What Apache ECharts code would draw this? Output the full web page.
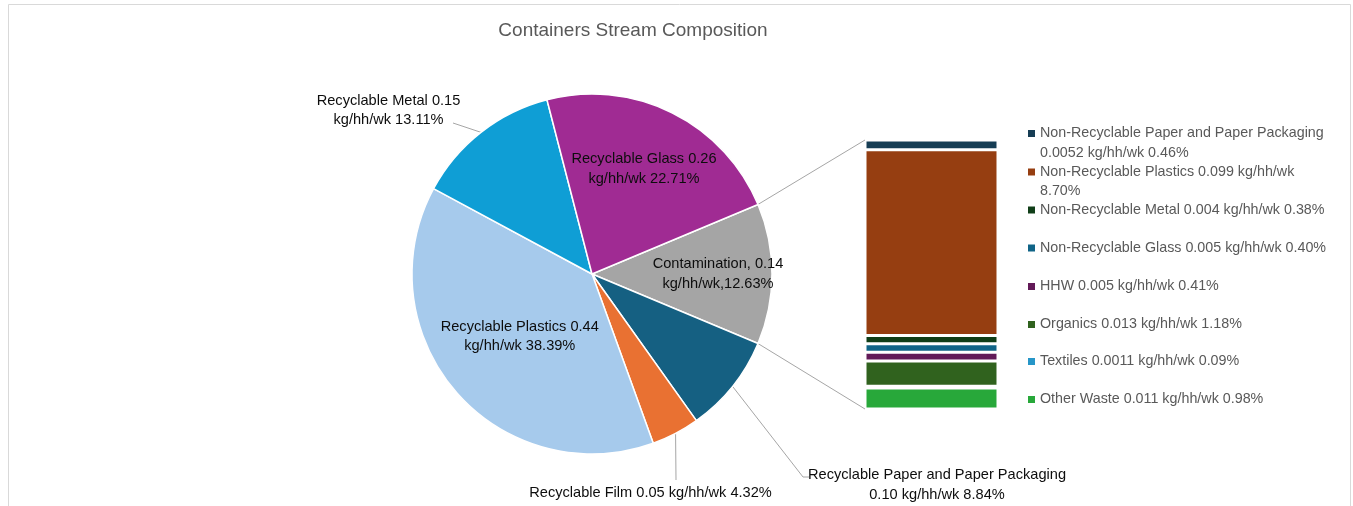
<!DOCTYPE html>
<html>
<head>
<meta charset="utf-8">
<script src="https://cdn.jsdelivr.net/npm/echarts@6/dist/echarts.min.js"></script>
<style>
  html, body { margin: 0; padding: 0; background: #ffffff; }
  #chart { width: 1353px; height: 506px; }
</style>
</head>
<body>
<div id="chart"></div>
<script>
// ---- Main stream composition (pie), clockwise starting with Contamination ----
const pieNames = ['Contamination', 'Recyclable Paper and Paper Packaging', 'Recyclable Film',
                  'Recyclable Plastics', 'Recyclable Metal', 'Recyclable Glass'];
const pieKg = ['0.14', '0.10', '0.05', '0.44', '0.15', '0.26'];
const piePct = [12.63, 8.84, 4.32, 38.39, 13.11, 22.71];
const pieColors = ['#A5A5A5', '#156082', '#E97132', '#A6CAEC', '#0F9ED5', '#A02B93'];

// ---- Contamination breakdown (stacked bar), listed top to bottom ----
const barNames = ['Non-Recyclable Paper and Paper Packaging', 'Non-Recyclable Plastics',
                  'Non-Recyclable Metal', 'Non-Recyclable Glass', 'HHW', 'Organics',
                  'Textiles', 'Other Waste'];
const barKg = ['0.0052', '0.099', '0.004', '0.005', '0.005', '0.013', '0.0011', '0.011'];
const barPct = [0.46, 8.70, 0.38, 0.40, 0.41, 1.18, 0.09, 0.98];
const barColors = ['#163D54', '#963E11', '#103E18', '#106487', '#621A58', '#30621E', '#2696C8', '#28A83A'];

const titleText = 'Containers Stream Composition';

// ---- layout ----
const FONT = '"Liberation Sans", Arial, sans-serif';
const LABEL_SIZE = 14.6;
const LEGEND_SIZE = 14.3;
const LINE_H = 19.5;
const PIE = { cx: 592, cy: 274, r: 180 };
const BAR_GRID = { left: 865, top: 140, width: 133, height: 269 };
const LEGEND_LEFT = 1028;
const LEGEND_LINE_CENTERS = [133.5, 172, 210, 248, 286.5, 324.5, 361.5, 399.5];
const LEGEND_WRAP = 298;
const GUIDE_COLOR = '#A6A6A6';

// labels drawn inside a slice: fraction of the radius along the slice's mid angle
const INSIDE_LABEL_RADIUS = {
  'Contamination': 0.70,
  'Recyclable Plastics': 0.53,
  'Recyclable Glass': 0.65
};
// labels drawn outside: text centre and leader-line end
const OUTSIDE_LABEL = {
  'Recyclable Metal': { x: 388.5, y: 110.5, line: [[453, 123]] },
  'Recyclable Film': { x: 650.5, y: 492.5, line: [[676, 480]] },
  'Recyclable Paper and Paper Packaging': { x: 937, y: 485, line: [[803, 477], [809, 477]] }
};

// ---- pie geometry from the data (angles clockwise from 12 o'clock) ----
const pieTotal = piePct.reduce((a, b) => a + b, 0);
const sweep = piePct.map(v => v / pieTotal * 360);
const startAngle = sweep[0] / 2;               // Contamination centred on 3 o'clock
const sliceFrom = [];
let acc = 90 - startAngle;
sweep.forEach(s => { sliceFrom.push(acc); acc += s; });
const sliceMid = sliceFrom.map((a, i) => a + sweep[i] / 2);
function polar(deg, rr) {
  const t = deg * Math.PI / 180;
  return [PIE.cx + rr * Math.sin(t), PIE.cy - rr * Math.cos(t)];
}

function pieLabelText(i) {
  const name = pieNames[i], kg = pieKg[i], pct = piePct[i].toFixed(2) + '%';
  if (name === 'Contamination') return name + ', ' + kg + '\nkg/hh/wk,' + pct;
  if (name === 'Recyclable Film') return name + ' ' + kg + ' kg/hh/wk ' + pct;
  if (name === 'Recyclable Paper and Paper Packaging') return name + '\n' + kg + ' kg/hh/wk ' + pct;
  return name + ' ' + kg + '\nkg/hh/wk ' + pct;
}

const pieData = pieNames.map((name, i) => {
  const outside = OUTSIDE_LABEL[name] != null;
  return {
    name: name,
    value: piePct[i],
    itemStyle: { color: pieColors[i] },
    label: { position: outside ? 'outside' : 'inside', formatter: pieLabelText(i) },
    labelLine: { show: outside }
  };
});

// ---- legend text wrapping ----
const measure = document.createElement('canvas').getContext('2d');
measure.font = LEGEND_SIZE + 'px ' + FONT;
function wrapText(text, maxW) {
  const words = text.split(' ');
  const lines = [];
  let cur = '';
  words.forEach(w => {
    const test = cur ? cur + ' ' + w : w;
    if (cur && measure.measureText(test).width > maxW) { lines.push(cur); cur = w; }
    else cur = test;
  });
  if (cur) lines.push(cur);
  return lines;
}
const legendText = barNames.map((n, i) =>
  wrapText(n + ' ' + barKg[i] + ' kg/hh/wk ' + barPct[i].toFixed(2) + '%', LEGEND_WRAP));

const ICON = 7;
const legends = barNames.map((name, i) => {
  const lines = legendText[i].length;
  const h = ICON + (lines - 1) * LINE_H;   // keep the swatch beside the first line
  return {
    left: LEGEND_LEFT,
    top: LEGEND_LINE_CENTERS[i] - LINE_H / 2,
    padding: 0,
    orient: 'vertical',
    selectedMode: false,
    itemWidth: ICON,
    itemHeight: h,
    icon: lines > 1 ? 'path://M0,0h7v7h-7zM0,' + h : 'rect',
    itemStyle: { borderWidth: 0 },
    data: [name],
    formatter: () => legendText[i].join('\n'),
    textStyle: { fontFamily: FONT, fontSize: LEGEND_SIZE, lineHeight: LINE_H, color: '#595959' }
  };
});

// ---- stacked bar series, bottom segment first ----
const barTotal = barPct.reduce((a, b) => a + b, 0);
const barSeries = barNames.map((name, i) => ({
  type: 'bar',
  name: name,
  stack: 'contamination',
  barWidth: '100%',
  data: [barPct[i]],
  itemStyle: { color: barColors[i], borderColor: '#ffffff', borderWidth: 1.5 },
  emphasis: { disabled: true },
  z: 2
})).reverse();

// ---- connector lines from the Contamination slice to the bar ----
const upper = polar(sliceFrom[0], PIE.r);
const lower = polar(sliceFrom[0] + sweep[0], PIE.r);
const connectors = [
  [upper, [BAR_GRID.left, BAR_GRID.top]],
  [lower, [BAR_GRID.left, BAR_GRID.top + BAR_GRID.height]]
].map(([a, b]) => ({
  type: 'line',
  shape: { x1: a[0], y1: a[1], x2: b[0], y2: b[1] },
  style: { stroke: GUIDE_COLOR, lineWidth: 1 },
  z: 1
}));

const chart = echarts.init(document.getElementById('chart'), null, { renderer: 'canvas' });
chart.setOption({
  animation: false,
  backgroundColor: '#ffffff',
  title: {
    text: titleText,
    left: 633,
    top: 20,
    textAlign: 'center',
    padding: 0,
    textStyle: { fontFamily: FONT, fontSize: 19, fontWeight: 'normal', color: '#595959', lineHeight: 22 }
  },
  legend: legends,
  grid: {
    left: BAR_GRID.left, top: BAR_GRID.top, width: BAR_GRID.width, height: BAR_GRID.height,
    outerBoundsMode: 'none'
  },
  xAxis: { type: 'category', data: ['Contamination'], show: false },
  yAxis: { type: 'value', min: 0, max: barTotal, show: false },
  graphic: [
    {
      type: 'rect',
      shape: { x: 8.5, y: 4.5, width: 1342, height: 540 },
      style: { fill: 'none', stroke: '#D9D9D9', lineWidth: 1 },
      silent: true, z: 0
    }
  ].concat(connectors),
  series: [
    {
      type: 'pie',
      center: [PIE.cx, PIE.cy],
      radius: PIE.r,
      startAngle: startAngle,
      clockwise: true,
      avoidLabelOverlap: false,
      emphasis: { disabled: true },
      itemStyle: { borderColor: '#ffffff', borderWidth: 1.5 },
      label: { fontFamily: FONT, fontSize: LABEL_SIZE, lineHeight: LINE_H, color: '#0D0D0D' },
      labelLine: { length: 10, length2: 0, smooth: false, lineStyle: { color: GUIDE_COLOR, width: 1 } },
      labelLayout: function (params) {
        const i = params.dataIndex;
        const name = pieNames[i];
        const k = INSIDE_LABEL_RADIUS[name];
        if (k != null) {
          const p = polar(sliceMid[i], PIE.r * k);
          return { x: p[0], y: p[1], align: 'center', verticalAlign: 'middle' };
        }
        const o = OUTSIDE_LABEL[name];
        return {
          x: o.x, y: o.y, align: 'center', verticalAlign: 'middle',
          labelLinePoints: [polar(sliceMid[i], PIE.r)].concat(o.line)
        };
      },
      data: pieData,
      z: 3
    }
  ].concat(barSeries)
});
</script>
</body>
</html>
